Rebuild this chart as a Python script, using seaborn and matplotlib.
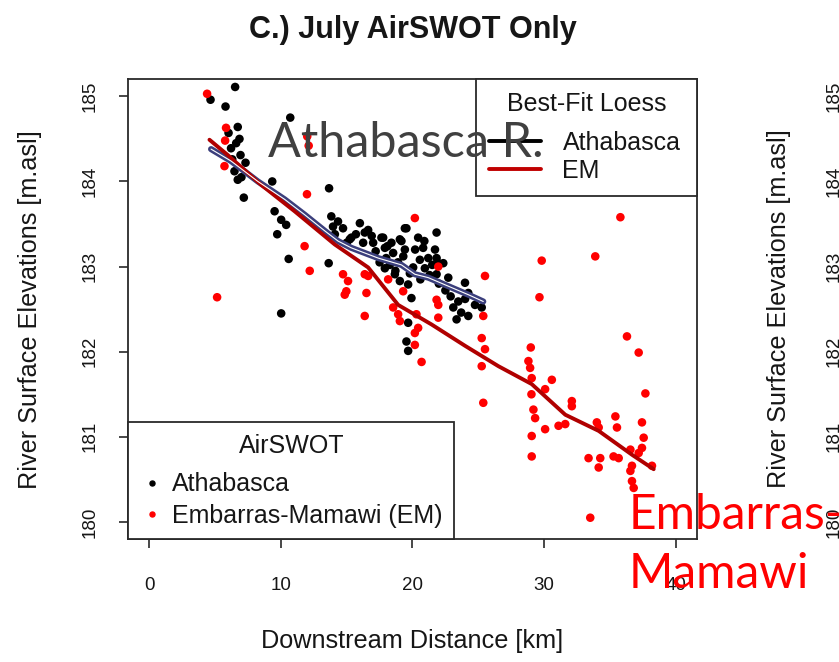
import matplotlib
matplotlib.use("Agg")
import matplotlib.pyplot as plt
import matplotlib.transforms as mtransforms
from matplotlib.lines import Line2D
import seaborn as sns
import pandas as pd

# ---------------- data ----------------
ath_km = [6.52, 4.65, 5.79, 10.71, 6.72, 6.02, 6.85, 6.21, 6.93, 7.31, 6.47, 6.72, 7.18,
          9.34, 13.66, 9.52, 10.02, 10.40, 9.72, 10.59, 13.83, 14.34, 13.63, 10.02, 15.35,
          16.37, 17.77, 18.40, 19.42, 19.16, 17.90, 18.66, 19.67, 19.92, 19.67, 19.54, 19.67,
          13.96, 15.23, 16.25, 17.64, 17.90, 19.04, 19.54, 19.42, 18.28, 19.04, 20.56, 20.94,
          21.83, 21.71, 21.83, 21.83, 23.99, 24.24, 23.48, 23.35, 24.75, 25.26, 16.63, 17.01,
          18.53, 20.43, 20.81, 22.34, 22.72, 20.05, 21.20, 16.00, 14.72, 23.10, 23.70, 24.24,
          21.96, 6.30, 6.60, 7.00, 17.20, 18.00, 18.90, 20.20, 21.30, 22.00, 22.90, 19.80, 20.60,
          15.70, 16.90, 18.10, 19.30, 20.90, 21.50, 17.50, 18.70, 22.50, 24.00, 14.10, 15.00]
ath_elev = [185.11, 184.96, 184.88, 184.75, 184.64, 184.57, 184.50, 184.39, 184.31, 184.22, 184.12, 184.02, 183.81,
            184.00, 183.92, 183.65, 183.55, 183.49, 183.38, 183.09, 183.59, 183.53, 183.04, 182.45, 183.34,
            183.40, 183.34, 183.28, 183.45, 183.30, 182.98, 182.91, 182.79, 182.63, 182.34, 182.12, 182.01,
            183.47, 183.32, 183.28, 183.34, 183.22, 183.32, 183.45, 183.20, 183.02, 182.83, 183.08, 182.98,
            183.40, 183.20, 183.10, 182.91, 182.81, 182.69, 182.59, 182.38, 182.55, 182.52, 183.43, 183.28,
            183.16, 183.34, 183.22, 183.04, 182.87, 182.99, 183.10, 183.51, 183.45, 182.52, 182.46, 182.42,
            183.04, 184.26, 184.45, 184.05, 183.18, 183.10, 183.05, 183.20, 182.90, 182.80, 182.65, 182.92, 182.85,
            183.38, 183.36, 183.24, 183.12, 183.30, 183.02, 183.05, 182.95, 182.72, 182.62, 183.38, 183.28]

em_km = [4.39, 5.83, 5.76, 5.71, 12.00, 12.11, 11.98, 5.15, 11.80, 12.19, 20.18, 15.10, 14.97,
         14.85, 14.72, 16.37, 16.50, 16.63, 16.37, 18.15, 18.53, 18.91, 19.04, 19.29, 20.30, 20.43,
         20.18, 20.18, 20.69, 21.83, 21.96, 21.96, 21.96, 25.51, 25.38, 25.26, 25.51, 25.26, 25.38,
         35.80, 29.82, 33.89, 29.65, 28.99, 28.81, 28.94, 29.06, 30.59, 30.08, 36.30, 37.19, 37.70,
         29.04, 29.19, 29.32, 29.06, 29.06, 30.08, 31.10, 31.61, 32.11, 32.11, 34.01, 34.15, 33.38,
         34.27, 34.15, 35.42, 35.54, 35.28, 35.67, 37.44, 37.57, 37.44, 36.56, 36.68, 36.56, 36.68,
         36.81, 38.20, 33.51, 37.19]
em_elev = [185.03, 184.63, 184.48, 184.18, 184.53, 184.42, 183.85, 182.64, 183.24, 182.95, 183.57, 182.83, 182.71,
           182.67, 182.91, 182.91, 182.69, 182.89, 182.42, 182.85, 182.52, 182.44, 182.36, 182.71, 182.44, 182.28,
           182.08, 182.22, 181.88, 182.61, 182.55, 182.40, 183.00, 182.89, 182.42, 182.16, 182.03, 181.83, 181.40,
           183.58, 183.07, 183.12, 182.64, 182.05, 181.89, 181.81, 181.69, 181.67, 181.56, 182.18, 181.99, 181.51,
           181.50, 181.32, 181.22, 181.01, 180.77, 181.09, 181.13, 181.15, 181.42, 181.36, 181.17, 181.11, 180.75,
           180.75, 180.64, 181.24, 181.11, 180.77, 180.75, 181.17, 180.99, 180.87, 180.85, 180.66, 180.60, 180.48,
           180.40, 180.66, 180.05, 180.81]

ath_loess_km = [4.69, 6.21, 8.25, 10.28, 11.80, 13.33, 14.34, 15.35, 17.39, 19.16, 20.18, 21.20, 22.72, 24.24, 25.38]
ath_loess_elev = [184.38, 184.24, 184.00, 183.79, 183.61, 183.42, 183.30, 183.22, 183.10, 183.02, 182.91, 182.87, 182.77, 182.67, 182.59]

em_loess_km = [4.57, 5.96, 8.50, 11.04, 14.09, 16.63, 18.91, 21.45, 23.99, 26.53, 29.06, 31.61, 34.15, 36.68, 38.33]
em_loess_elev = [184.49, 184.31, 183.96, 183.65, 183.26, 182.99, 182.55, 182.32, 182.07, 181.83, 181.62, 181.26, 181.07, 180.79, 180.62]

x_ticks = [0, 10, 20, 30, 40]
y_ticks = [180, 181, 182, 183, 184, 185]
title = "C.) July AirSWOT Only"
x_label = "Downstream Distance [km]"
y_label = "River Surface Elevations [m.asl]"
loess_title = "Best-Fit Loess"
loess_labels = ["Athabasca", "EM"]
point_title = "AirSWOT"
point_labels = ["Athabasca", "Embarras-Mamawi (EM)"]

# ---------------- style ----------------
sns.set_style("white")
plt.rcParams['font.family'] = ['Liberation Sans', 'DejaVu Sans']
TXT = '#161616'

fig = plt.figure(figsize=(8.39, 6.62), dpi=100)
ax = fig.add_axes([0.1529, 0.1858, 0.6775, 0.6944])

pts = pd.DataFrame({
    'km': ath_km + em_km,
    'elev': ath_elev + em_elev,
    'river': ['Athabasca'] * len(ath_km) + ['EM'] * len(em_km),
})
sns.scatterplot(data=pts, x='km', y='elev', hue='river',
                palette={'Athabasca': 'black', 'EM': '#ff0000'},
                s=38, linewidth=0, legend=False, ax=ax, zorder=2)

ath_l = pd.DataFrame({'km': ath_loess_km, 'elev': ath_loess_elev})
em_l = pd.DataFrame({'km': em_loess_km, 'elev': em_loess_elev})
sns.lineplot(data=ath_l, x='km', y='elev', color='#3b3f7c', lw=4.4, sort=False,
             estimator=None, ax=ax, zorder=3)
sns.lineplot(data=ath_l, x='km', y='elev', color='white', lw=0.8, sort=False,
             estimator=None, ax=ax, zorder=3.1)
sns.lineplot(data=em_l, x='km', y='elev', color='#b00000', lw=2.8, sort=False,
             estimator=None, ax=ax, zorder=3)

ax.set_xlim(-1.6, 41.6)
ax.set_ylim(179.8, 185.2)
ax.set_xticks(x_ticks)
ax.set_yticks(y_ticks)
ax.set_xticklabels([str(v) for v in x_ticks])
ax.set_yticklabels([str(v) for v in y_ticks], rotation=90, va='center')
ax.tick_params(axis='both', direction='out', length=6.5, width=1.1, colors=TXT,
               labelsize=13.5, labelcolor=TXT, bottom=True, left=True)
ax.tick_params(axis='x', pad=21)
ax.tick_params(axis='y', pad=15)
for sp in ax.spines.values():
    sp.set_visible(True)
    sp.set_color('#2a2a2a')
    sp.set_linewidth(1.3)

ax.set_xlabel(x_label, fontsize=18.2, color=TXT)
ax.set_ylabel(y_label, fontsize=18.2, color=TXT)
ax.xaxis.set_label_coords(0.5, (539 - 641) / 459.7)
ax.xaxis.label.set_va('center')
ax.yaxis.set_label_coords((30 - 128.3) / 568.4, 0.5)
ax.yaxis.label.set_va('center')

ax.set_title(title, fontsize=22, fontweight='bold', color=TXT, pad=30)

# legends
loess_handles = [Line2D([], [], color='black', lw=2.8),
                 Line2D([], [], color='#c00000', lw=2.8)]
leg1_x0 = (476 - 128.3) / 568.4
leg1 = ax.legend(loess_handles, loess_labels, title=loess_title + "\n", loc='upper right',
                 bbox_to_anchor=(leg1_x0, 0.5, 1 - leg1_x0, 0.5), mode='expand',
                 borderaxespad=0, fontsize=18, title_fontsize=18,
                 fancybox=False, framealpha=1, edgecolor='#2a2a2a', handlelength=2.1,
                 handletextpad=0.84, borderpad=0.52, labelspacing=0.16)
leg1.get_title().set_linespacing(0.3)
leg1.get_frame().set_linewidth(1.3)
for t in leg1.get_texts():
    t.set_color(TXT)
leg1.get_title().set_color(TXT)
ax.add_artist(leg1)

pt_handles = [Line2D([], [], ls='none', marker='o', markersize=3.6, color='black'),
              Line2D([], [], ls='none', marker='o', markersize=3.6, color='#ff0000')]
leg2 = ax.legend(pt_handles, point_labels, title=point_title + "\n", loc='lower left',
                 bbox_to_anchor=(0, 0), borderaxespad=0, fontsize=18, title_fontsize=18,
                 fancybox=False, framealpha=1, edgecolor='#2a2a2a', handlelength=1.0,
                 handletextpad=0.3, borderpad=0.46, labelspacing=0.29)
leg2.get_title().set_linespacing(0.12)
leg2.get_frame().set_linewidth(1.3)
for t in leg2.get_texts():
    t.set_color(TXT)
leg2.get_title().set_color(TXT)

# slide overlay text
fig.text(268 / 839, 1 - 143 / 662, 'Athabasca R.', fontsize=35, color='#404040',
         family=['Lato', 'DejaVu Sans'], ha='left', va='center', zorder=10)
fig.text(629 / 839, 1 - 515 / 662, 'Embarras-', fontsize=34.5, color='#ff0000',
         family=['Lato', 'DejaVu Sans'], ha='left', va='center', zorder=10)
fig.text(629 / 839, 1 - 574 / 662, 'Mamawi', fontsize=34.5, color='#ff0000',
         family=['Lato', 'DejaVu Sans'], ha='left', va='center', zorder=10)

# partially visible neighbouring panel on the right
fig.text(779 / 839, 1 - 309 / 662, y_label, rotation=90, fontsize=18.2, color=TXT,
         ha='center', va='center')
btr = mtransforms.blended_transform_factory(fig.transFigure, ax.transData)
for v in y_ticks:
    fig.text(834 / 839, v, str(v), transform=btr, rotation=90, fontsize=13.5, color=TXT,
             ha='center', va='center')

fig.savefig('out.png', dpi=100, facecolor='white')
